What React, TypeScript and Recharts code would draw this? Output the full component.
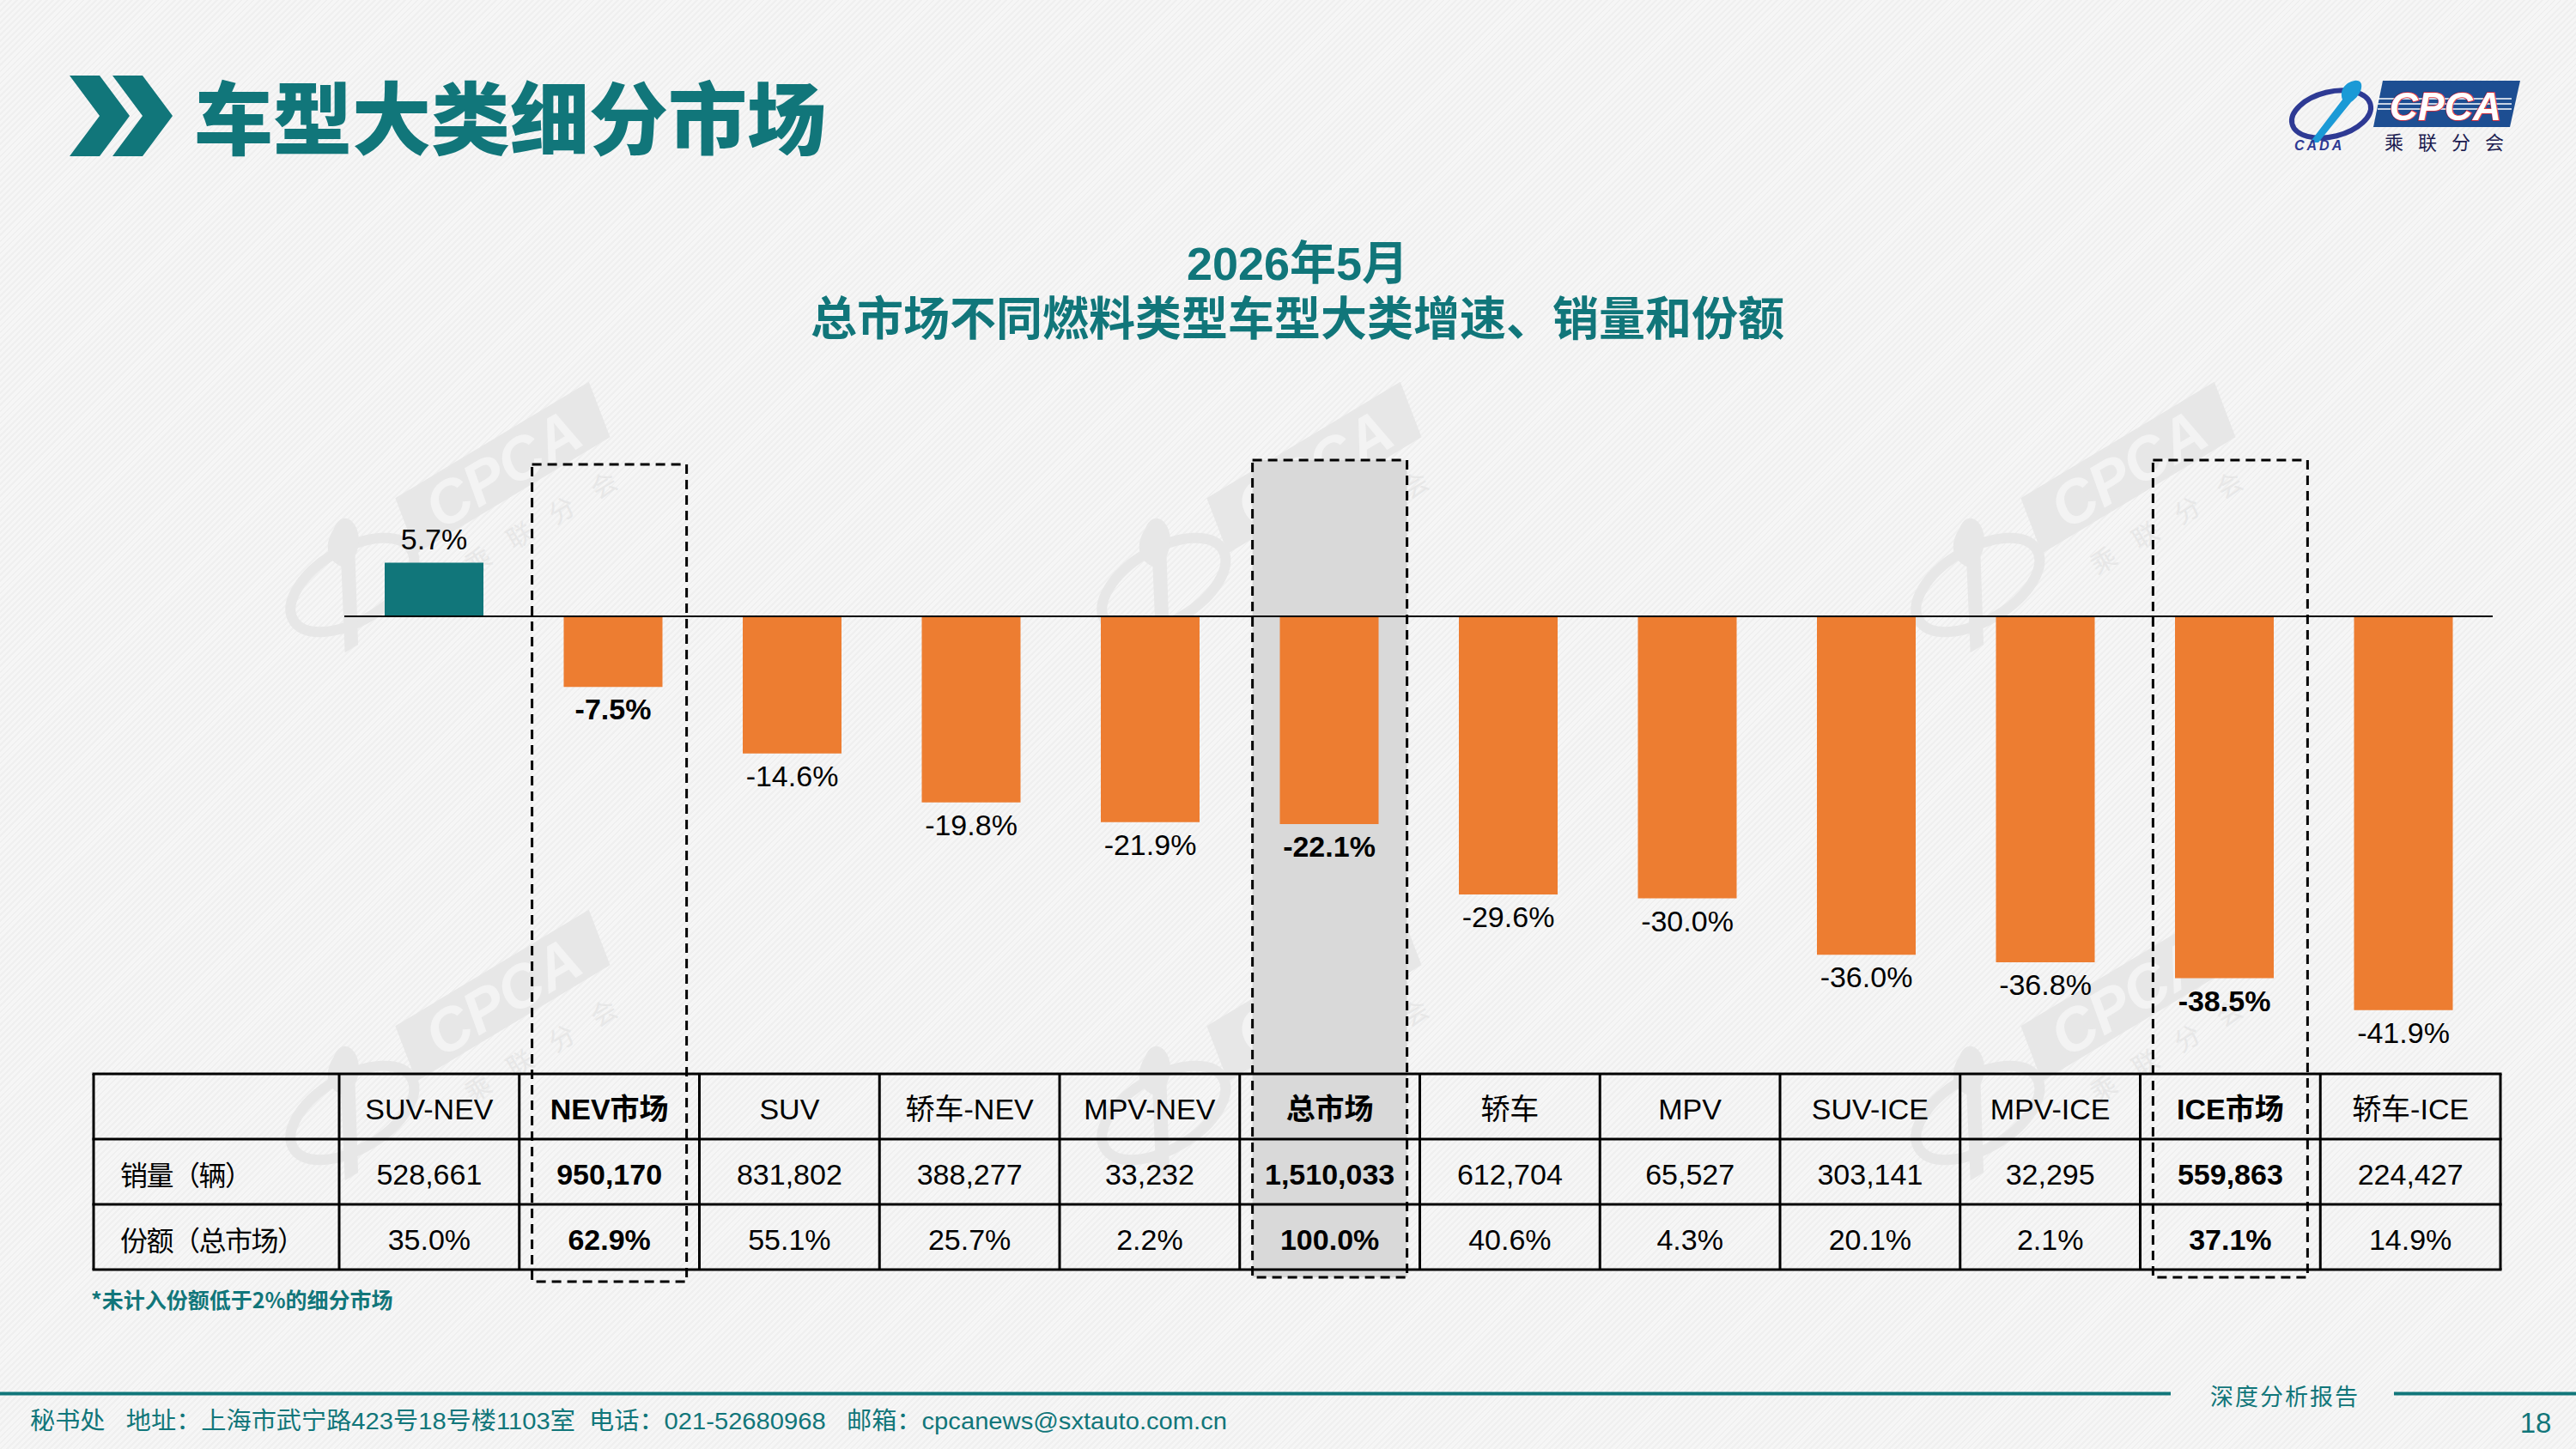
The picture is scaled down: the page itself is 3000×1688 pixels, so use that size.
import { BarChart, Bar, XAxis, YAxis, ReferenceLine, Cell, LabelList } from 'recharts';

// 2026年5月 segment data
const categories = ['SUV-NEV', 'NEV市场', 'SUV', '轿车-NEV', 'MPV-NEV', '总市场', '轿车', 'MPV', 'SUV-ICE', 'MPV-ICE', 'ICE市场', '轿车-ICE'];
const growth = [5.7, -7.5, -14.6, -19.8, -21.9, -22.1, -29.6, -30.0, -36.0, -36.8, -38.5, -41.9];
const sales = [528661, 950170, 831802, 388277, 33232, 1510033, 612704, 65527, 303141, 32295, 559863, 224427];
const share = [35.0, 62.9, 55.1, 25.7, 2.2, 100.0, 40.6, 4.3, 20.1, 2.1, 37.1, 14.9];
const highlighted = ['NEV市场', '总市场', 'ICE市场'];
const rowLabels = ['销量（辆）', '份额（总市场）'];

const TEAL = '#11767a';
const ORANGE = '#ed7d31';
const LATIN = '"Liberation Sans", Arial, "Noto Sans CJK SC", sans-serif';
const CJK = '"Noto Sans CJK SC", "Liberation Sans", sans-serif';

const W = 3000;
const H = 1688;

// chart geometry
const PLOT_LEFT = 401;
const PLOT_RIGHT = 2903;
const CHART_TOP = 540;
const CHART_H = 700;
const ZERO_Y = 718;
const Y_MIN = -45;
const Y_MAX = 10;
const PX_PER_PCT = 10.95;
const BAR_SIZE = 115;
const marginTop = ZERO_Y - Y_MAX * PX_PER_PCT - CHART_TOP;
const marginBottom = CHART_TOP + CHART_H - (ZERO_Y - Y_MIN * PX_PER_PCT);

// table geometry
const TABLE_LEFT = 109;
const TABLE_TOP = 1251;
const FIRST_COL = 286;
const COL_W = 209.75;
const ROW_H = 76;
const TABLE_RIGHT = TABLE_LEFT + FIRST_COL + COL_W * categories.length;
const colCenter = (i: number) => TABLE_LEFT + FIRST_COL + (i + 0.5) * COL_W;

const rows = categories.map((name, i) => ({ name, growth: growth[i] }));

const isBold = (i: number) => highlighted.includes(categories[i]);

function renderGrowthLabel(props: any) {
  const vb = props.viewBox ?? props;
  const x = props.x ?? vb.x;
  const y = props.y ?? vb.y;
  const width = props.width ?? vb.width;
  const height = props.height ?? vb.height;
  const v = typeof props.value === 'number' ? props.value : Number(props.value);
  const i = typeof props.index === 'number' ? props.index : growth.indexOf(v);
  const top = Math.min(y, y + height);
  const bottom = Math.max(y, y + height);
  const ty = v < 0 ? bottom + 26 : top - 28;
  return (
    <text
      key={`lbl-${i}`}
      x={x + width / 2}
      y={ty}
      textAnchor="middle"
      dominantBaseline="central"
      fontFamily={LATIN}
      fontSize={34}
      fontWeight={isBold(i) ? 700 : 400}
      fill="#000"
    >
      {v.toFixed(1)}%
    </text>
  );
}

function Watermark({ x, y }: { x: number; y: number }) {
  const c = '#e7e7e7';
  return (
    <g transform={`translate(${x} ${y}) rotate(-31)`}>
      <polygon points="-125,-34 138,-34 126,34 -137,34" fill={c} />
      <text x={0} y={2} textAnchor="middle" dominantBaseline="central" fontFamily={LATIN} fontStyle="italic" fontWeight={700} fontSize={70} fill="#f3f3f3">
        CPCA
      </text>
      <text x={-95} y={76} dominantBaseline="central" fontFamily={CJK} fontSize={30} letterSpacing={27} fill={c}>
        乘联分会
      </text>
      <ellipse cx={-220} cy={27} rx={80} ry={42} fill="none" stroke={c} strokeWidth={12} />
      <path d="M-205 -40 C-180 -60 -170 -20 -200 0 L-250 90 L-268 90 L-220 2 C-232 -15 -222 -32 -205 -40 Z" fill={c} />
    </g>
  );
}

function Logo() {
  return (
    <g>
      <ellipse cx={2715} cy={133} rx={47} ry={26} transform="rotate(-14 2715 133)" fill="none" stroke="#2e3a94" strokeWidth={6} />
      <path d="M2742 94 C2755 92 2752 110 2738 119 L2700 166 L2690 166 L2728 116 C2724 104 2732 96 2742 94 Z" fill="#1b9ad6" />
      <text x={2672} y={175} fontFamily={LATIN} fontStyle="italic" fontWeight={700} fontSize={16} letterSpacing={3} fill="#2e3a94">
        CADA
      </text>
      <polygon points="2775,94 2935,94 2923,148 2764,148" fill="#1d4e92" />
      {[115, 121, 127].map((ly) => (
        <line key={ly} x1={2769} x2={2925} y1={ly} y2={ly} stroke="#ffffff" strokeWidth={1.5} />
      ))}
      <text
        x={2848}
        y={140}
        textAnchor="middle"
        fontFamily={LATIN}
        fontStyle="italic"
        fontWeight={700}
        fontSize={46}
        fill="#ffffff"
        stroke="#e2252b"
        strokeWidth={1.6}
        paintOrder="stroke"
      >
        CPCA
      </text>
      <text x={2777} y={174} fontFamily={CJK} fontSize={22} letterSpacing={17} fill="#1c1c50">
        乘联分会
      </text>
    </g>
  );
}

const boxes = [
  { i: 1, top: 541, bottom: 1493, fill: 'none' },
  { i: 5, top: 536, bottom: 1488, fill: '#d9d9d9' },
  { i: 10, top: 536, bottom: 1488, fill: 'none' },
];
const BOX_W = 180;

export default function App() {
  return (
    <div
      style={{
        position: 'absolute',
        left: 0,
        top: 0,
        width: W,
        height: H,
        overflow: 'hidden',
        background: 'repeating-linear-gradient(135deg, #f6f6f6 0px, #f6f6f6 3px, #efefef 3px, #efefef 5px)',
      }}
    >
      {/* watermarks and the shaded total-market column */}
      <svg width={W} height={H} style={{ position: 'absolute', left: 0, top: 0 }}>
        {[585, 1530, 2478].map((wx) => (
          <g key={wx}>
            <Watermark x={wx} y={545} />
            <Watermark x={wx} y={1160} />
          </g>
        ))}
        {boxes
          .filter((b) => b.fill !== 'none')
          .map((b) => (
            <rect key={b.i} x={colCenter(b.i) - BOX_W / 2} y={b.top} width={BOX_W} height={b.bottom - b.top} fill={b.fill} />
          ))}
      </svg>

      <div style={{ position: 'absolute', left: 0, top: CHART_TOP }}>
        <BarChart
          width={W}
          height={CHART_H}
          data={rows}
          margin={{ top: marginTop, right: W - PLOT_RIGHT, bottom: marginBottom, left: PLOT_LEFT }}
        >
          <XAxis dataKey="name" hide />
          <YAxis type="number" domain={[Y_MIN, Y_MAX]} hide />
          <Bar dataKey="growth" barSize={BAR_SIZE} isAnimationActive={false}>
            {rows.map((r) => (
              <Cell key={r.name} fill={r.growth >= 0 ? TEAL : ORANGE} />
            ))}
            <LabelList dataKey="growth" content={renderGrowthLabel} />
          </Bar>
          <ReferenceLine y={0} stroke="#000" strokeWidth={2} />
        </BarChart>
      </div>

      <svg width={W} height={H} style={{ position: 'absolute', left: 0, top: 0 }}>
        {/* header */}
        <polygon points="81,88 116,88 151,135 116,182 81,182 116,135" fill={TEAL} />
        <polygon points="131,88 166,88 201,135 166,182 131,182 166,135" fill={TEAL} />
        <text x={226} y={132} dominantBaseline="central" fontFamily={CJK} fontWeight={900} fontSize={92} fill={TEAL}>
          车型大类细分市场
        </text>
        <Logo />

        {/* chart title, two centred lines */}
        <text x={1511} y={326} textAnchor="middle" fontFamily={LATIN} fontWeight={700} fontSize={54} fill={TEAL}>
          2026年5月
        </text>
        <text x={1511} y={391} textAnchor="middle" fontFamily={LATIN} fontWeight={700} fontSize={54} fill={TEAL}>
          总市场不同燃料类型车型大类增速、销量和份额
        </text>

        {/* data table */}
        {[0, 1, 2, 3].map((r) => (
          <line
            key={`h${r}`}
            x1={TABLE_LEFT}
            x2={TABLE_RIGHT}
            y1={TABLE_TOP + r * ROW_H}
            y2={TABLE_TOP + r * ROW_H}
            stroke="#000"
            strokeWidth={3}
            strokeLinecap="square"
          />
        ))}
        {[TABLE_LEFT, ...categories.map((_, k) => TABLE_LEFT + FIRST_COL + k * COL_W), TABLE_RIGHT].map((vx, k) => (
          <line key={`v${k}`} x1={vx} x2={vx} y1={TABLE_TOP} y2={TABLE_TOP + 3 * ROW_H} stroke="#000" strokeWidth={3} />
        ))}
        {rowLabels.map((label, r) => (
          <text
            key={label}
            x={TABLE_LEFT + 31}
            y={TABLE_TOP + (r + 1.5) * ROW_H + 2}
            dominantBaseline="central"
            fontFamily={CJK}
            fontSize={32}
            letterSpacing={-1.5}
            fill="#000"
          >
            {label}
          </text>
        ))}
        {categories.map((name, i) => {
          const cells = [name, sales[i].toLocaleString('en-US'), `${share[i].toFixed(1)}%`];
          return cells.map((t, r) => (
            <text
              key={`${name}-${r}`}
              x={colCenter(i)}
              y={TABLE_TOP + (r + 0.5) * ROW_H + 3}
              textAnchor="middle"
              dominantBaseline="central"
              fontFamily={LATIN}
              fontSize={34}
              fontWeight={isBold(i) ? 700 : 400}
              fill="#000"
            >
              {t}
            </text>
          ));
        })}
        <text x={106} y={1513} dominantBaseline="central" fontFamily={CJK} fontWeight={700} fontSize={25} fill={TEAL}>
          *未计入份额低于2%的细分市场
        </text>

        {/* dashed highlight frames */}
        {boxes.map((b) => (
          <rect
            key={`box${b.i}`}
            x={colCenter(b.i) - BOX_W / 2}
            y={b.top}
            width={BOX_W}
            height={b.bottom - b.top}
            fill="none"
            stroke="#000"
            strokeWidth={3}
            strokeDasharray="11 7"
          />
        ))}

        {/* footer */}
        <line x1={0} x2={2528} y1={1623.5} y2={1623.5} stroke={TEAL} strokeWidth={4} />
        <line x1={2788} x2={W} y1={1623.5} y2={1623.5} stroke={TEAL} strokeWidth={4} />
        <text x={2574} y={1625} dominantBaseline="central" fontFamily={CJK} fontSize={27} letterSpacing={2} fill={TEAL}>
          深度分析报告
        </text>
        <text
          x={35}
          y={1655}
          dominantBaseline="central"
          fontFamily={LATIN}
          fontSize={28}
          fill={TEAL}
          textLength={1394}
          lengthAdjust="spacingAndGlyphs"
          style={{ whiteSpace: 'pre' }}
        >
          {'秘书处   地址：上海市武宁路423号18号楼1103室  电话：021-52680968   邮箱：cpcanews@sxtauto.com.cn'}
        </text>
        <text x={2953} y={1657} textAnchor="middle" dominantBaseline="central" fontFamily={LATIN} fontSize={33} fill={TEAL}>
          18
        </text>
      </svg>
    </div>
  );
}
